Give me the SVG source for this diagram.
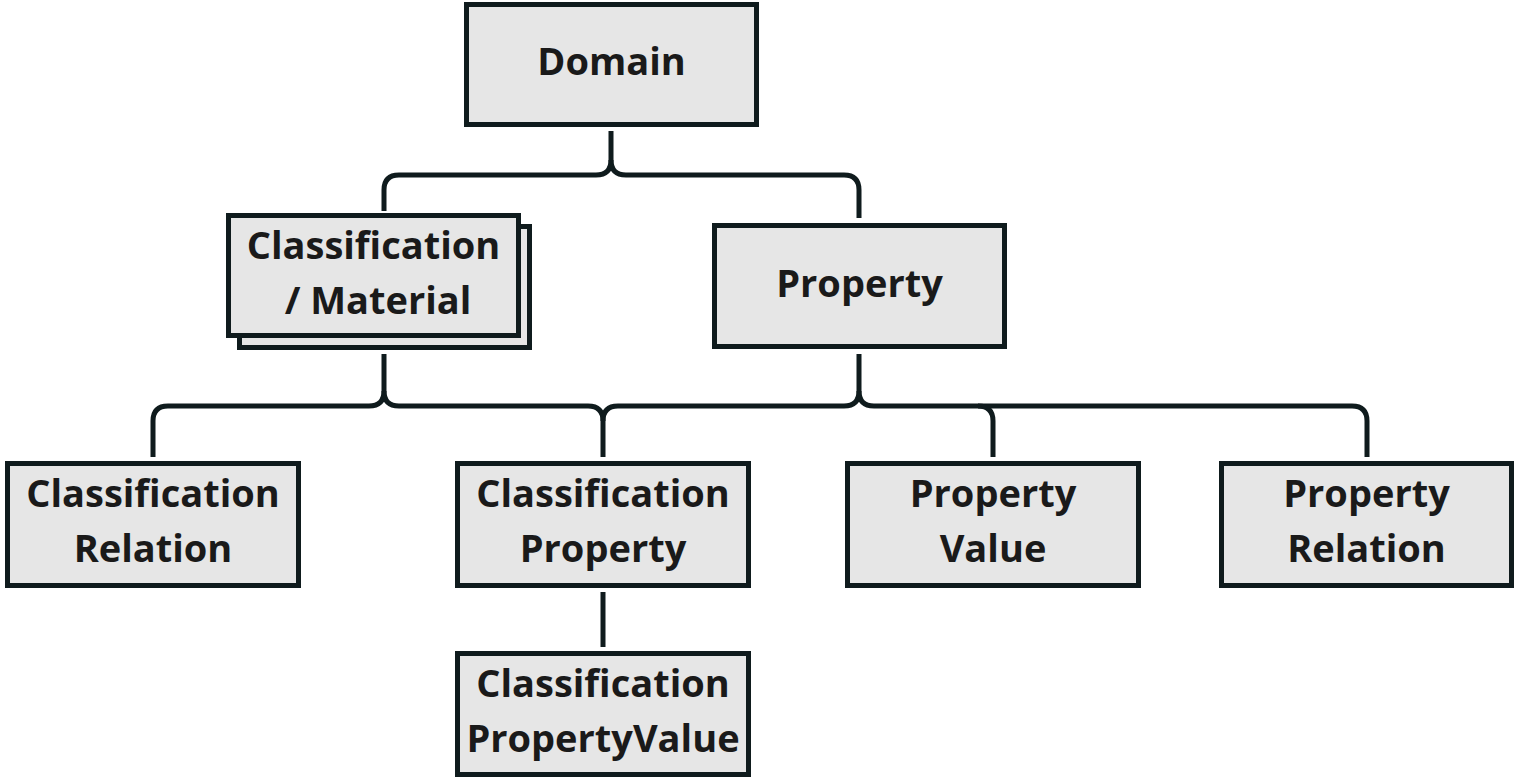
<svg xmlns="http://www.w3.org/2000/svg" width="1514" height="778" viewBox="0 0 1514 778">
<style>
.box{fill:#e6e6e6;stroke:#0f1b1d;stroke-width:5}
.lbl{font-family:"Open Sans","Noto Sans",sans-serif;font-weight:700;font-size:38px;fill:#1a1a1a;text-anchor:middle}
.conn{fill:none;stroke:#0f1b1d;stroke-width:5}
</style>
<rect width="1514" height="778" fill="#ffffff"/>
<g id="connectors" class="conn">
<path d="M611 131 V160 Q611 175 596 175 H399 Q384 175 384 190 V211"/>
<path d="M611 160 Q611 175 626 175 H844 Q859 175 859 190 V218"/>
<path d="M384 354 V391 Q384 406 369 406 H168 Q153 406 153 421 V457"/>
<path d="M384 391 Q384 406 399 406 H588 Q603 406 603 421 V457"/>
<path d="M859 354 V391 Q859 406 844 406 H618 Q603 406 603 421"/>
<path d="M859 391 Q859 406 874 406 H1352 Q1367 406 1367 421 V457"/>
<path d="M978 406 Q993 406 993 421 V457"/>
<path d="M603 592 V647"/>
</g>
<g id="domain">
<rect class="box" x="466.5" y="4.5" width="290" height="120"/>
<text class="lbl" x="611.5" y="74.5">Domain</text>
</g>
<g id="classification-material">
<rect class="box" x="239.5" y="226.5" width="290" height="121"/>
<rect class="box" x="228.5" y="215.5" width="290" height="120"/>
<text class="lbl" x="373.5" y="258.5">Classification</text>
<text class="lbl" x="378" y="313.5">/ Material</text>
</g>
<g id="property">
<rect class="box" x="714.5" y="225.5" width="290" height="121"/>
<text class="lbl" x="859.5" y="296.5">Property</text>
</g>
<g id="classification-relation">
<rect class="box" x="7.5" y="463.5" width="291" height="122"/>
<text class="lbl" x="153" y="506.5">Classification</text>
<text class="lbl" x="153" y="561.5">Relation</text>
</g>
<g id="classification-property">
<rect class="box" x="457.5" y="463.5" width="291" height="122"/>
<text class="lbl" x="603" y="506.5">Classification</text>
<text class="lbl" x="603" y="561.5">Property</text>
</g>
<g id="property-value">
<rect class="box" x="847.5" y="463.5" width="291" height="122"/>
<text class="lbl" x="993" y="506.5">Property</text>
<text class="lbl" x="993" y="561.5">Value</text>
</g>
<g id="property-relation">
<rect class="box" x="1221.5" y="463.5" width="290" height="122"/>
<text class="lbl" x="1366.5" y="506.5">Property</text>
<text class="lbl" x="1366.5" y="561.5">Relation</text>
</g>
<g id="classification-property-value">
<rect class="box" x="457.5" y="653.5" width="291" height="121"/>
<text class="lbl" x="603" y="696.5">Classification</text>
<text class="lbl" x="603" y="751.5">PropertyValue</text>
</g>
</svg>
